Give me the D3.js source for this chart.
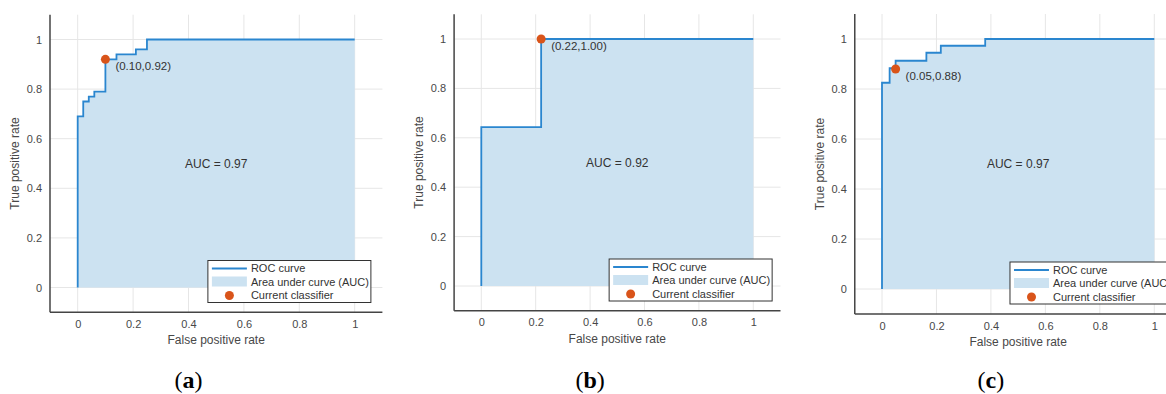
<!DOCTYPE html>
<html>
<head>
<meta charset="utf-8">
<script src="https://cdn.jsdelivr.net/npm/d3@7"></script>
<style>
  html, body { margin: 0; padding: 0; background: #fff; }
  svg { display: block; }
</style>
</head>
<body>
<svg id="chart" width="1166" height="394"></svg>
<script>
// ROC curves, corner points (fpr, tpr)
const fprA = [0, 0, 0.02, 0.04, 0.06, 0.10, 0.14, 0.21, 0.25, 1];
const tprA = [0, 0.69, 0.75, 0.77, 0.79, 0.92, 0.94, 0.96, 1, 1];
const fprB = [0, 0, 0.22, 1];
const tprB = [0, 0.643, 1, 1];
const fprC = [0, 0, 0.028, 0.05, 0.163, 0.216, 0.379, 1];
const tprC = [0, 0.825, 0.883, 0.913, 0.945, 0.973, 1, 1];

// current classifier points
const pointA = [0.10, 0.92];
const pointB = [0.22, 1.00];
const pointC = [0.05, 0.88];

const aucLabels = ["AUC = 0.97", "AUC = 0.92", "AUC = 0.97"];
const panelTags = ["a", "b", "c"];
const ticks = [0, 0.2, 0.4, 0.6, 0.8, 1];
const legendLabels = ["ROC curve", "Area under curve (AUC)", "Current classifier"];

const lineColor = "#2a86cf";
const fillColor = "#cce2f1";
const dotColor = "#d9541a";
const textColor = "#484848";
const font = "'Liberation Sans', Arial, sans-serif";

// pixel frame of each axes: where data 0 and 1 land
const frames = [
    {x0: 77.7, x1: 354.7, y0: 287.5, y1: 39.5},
    {x0: 481.3, x1: 753.3, y0: 286, y1: 39},
    {x0: 882, x1: 1154.3, y0: 289, y1: 39}
];

const panels = [
    {fpr: fprA, tpr: tprA, pt: pointA},
    {fpr: fprB, tpr: tprB, pt: pointB},
    {fpr: fprC, tpr: tprC, pt: pointC}
];

const svg = d3.select("#chart");
const fmt = d3.format(".2f");

panels.forEach((p, i) => {
    const f = frames[i];
    const x = d3.scaleLinear().domain([0, 1]).range([f.x0, f.x1]);
    const y = d3.scaleLinear().domain([0, 1]).range([f.y0, f.y1]);
    const left = x(-0.1), right = x(1.1), top = y(1.1), bottom = y(-0.1);
    const g = svg.append("g");
    const data = p.fpr.map((v, k) => [v, p.tpr[k]]);

    // grid
    g.append("g").selectAll("line").data(ticks).enter().append("line")
        .attr("x1", d => x(d)).attr("x2", d => x(d))
        .attr("y1", top).attr("y2", bottom)
        .attr("stroke", "#e6e6e6").attr("stroke-width", 1);
    g.append("g").selectAll("line").data(ticks).enter().append("line")
        .attr("x1", left).attr("x2", right)
        .attr("y1", d => y(d)).attr("y2", d => y(d))
        .attr("stroke", "#e6e6e6").attr("stroke-width", 1);

    // area + curve
    g.append("path")
        .datum(data)
        .attr("fill", fillColor)
        .attr("d", d3.area().curve(d3.curveStepAfter)
            .x(d => x(d[0])).y0(y(0)).y1(d => y(d[1])));
    g.append("path")
        .datum(data)
        .attr("fill", "none")
        .attr("stroke", lineColor)
        .attr("stroke-width", 1.8)
        .attr("d", d3.line().curve(d3.curveStepAfter)
            .x(d => x(d[0])).y(d => y(d[1])));

    // classifier point
    g.append("circle")
        .attr("cx", x(p.pt[0])).attr("cy", y(p.pt[1])).attr("r", 4.5)
        .attr("fill", dotColor);
    g.append("text")
        .attr("x", x(p.pt[0]) + 10).attr("y", y(p.pt[1]) + 11)
        .attr("fill", "#333")
        .style("font", `11.5px ${font}`)
        .text(`(${fmt(p.pt[0])},${fmt(p.pt[1])})`);

    g.append("text")
        .attr("x", x(0.5)).attr("y", y(0.5)).attr("dy", "0.35em")
        .attr("text-anchor", "middle")
        .attr("fill", "#333")
        .style("font", `12px ${font}`)
        .text(aucLabels[i]);

    // axes
    const xa = g.append("g")
        .attr("transform", `translate(0,${bottom})`)
        .call(d3.axisBottom(x).tickValues(ticks).tickSize(0).tickPadding(8)
            .tickFormat(d3.format("~g")));
    const ya = g.append("g")
        .attr("transform", `translate(${left},0)`)
        .call(d3.axisLeft(y).tickValues(ticks).tickSize(0).tickPadding(8)
            .tickFormat(d3.format("~g")));
    [xa, ya].forEach(a => {
        a.select(".domain").remove();
        a.selectAll("text").attr("fill", textColor).style("font", `11px ${font}`);
    });
    g.append("line").attr("x1", left).attr("x2", left).attr("y1", top).attr("y2", bottom)
        .attr("stroke", "#444").attr("stroke-width", 1.5);
    g.append("line").attr("x1", left).attr("x2", right).attr("y1", bottom).attr("y2", bottom)
        .attr("stroke", "#444").attr("stroke-width", 1.5);

    g.append("text")
        .attr("x", x(0.5)).attr("y", bottom + 32)
        .attr("text-anchor", "middle").attr("fill", textColor)
        .style("font", `12px ${font}`)
        .text("False positive rate");
    g.append("text")
        .attr("transform", `translate(${left - 31},${(top + bottom) / 2}) rotate(-90)`)
        .attr("text-anchor", "middle").attr("fill", textColor)
        .style("font", `12px ${font}`)
        .text("True positive rate");

    // legend
    const lx = x(0.47), ly = y(0) - 27;
    const lg = g.append("g").attr("transform", `translate(${lx},${ly})`);
    lg.append("rect").attr("width", 163).attr("height", 42)
        .attr("fill", "#fff").attr("stroke", "#333").attr("stroke-width", 1);
    lg.append("line").attr("x1", 4).attr("x2", 39).attr("y1", 8).attr("y2", 8)
        .attr("stroke", lineColor).attr("stroke-width", 2);
    lg.append("rect").attr("x", 4).attr("y", 16).attr("width", 35).attr("height", 10)
        .attr("fill", fillColor);
    lg.append("circle").attr("cx", 21.5).attr("cy", 35).attr("r", 4.5).attr("fill", dotColor);
    lg.selectAll("text.leg").data(legendLabels).enter().append("text")
        .attr("class", "leg")
        .attr("x", 43).attr("y", (d, k) => 8 + k * 13.5).attr("dy", "0.35em")
        .attr("fill", "#333")
        .style("font", `11px ${font}`)
        .text(d => d);

    // panel caption
    const cap = g.append("text")
        .attr("x", x(0.4)).attr("y", 388)
        .attr("text-anchor", "middle").attr("fill", "#000")
        .style("font", "24px 'Liberation Serif', 'DejaVu Serif', serif");
    cap.append("tspan").text("(");
    cap.append("tspan").attr("font-weight", "bold").text(panelTags[i]);
    cap.append("tspan").text(")");
});
</script>
</body>
</html>
